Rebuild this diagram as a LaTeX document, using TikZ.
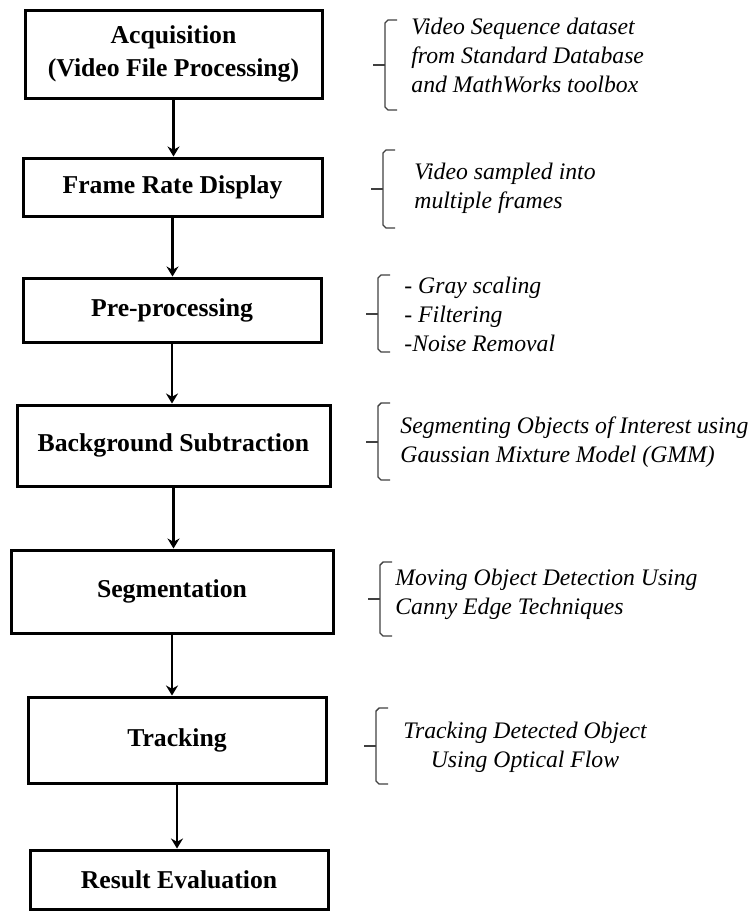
\documentclass[tikz,border=0pt]{standalone}
\usepackage{fontspec}
\setmainfont{Liberation Serif}
\usetikzlibrary{arrows.meta}
\newcommand{\notebrace}[3]{%
	\draw[brc] (#1+12,#2) -- (#1+3,#2) -- (#1,#2+3) -- (#1,#3-3) -- (#1+3,#3) -- (#1+12,#3);
	\draw[brc,line width=1pt] (#1,{(#2+#3)/2}) -- (#1-12,{(#2+#3)/2});}
\begin{document}
\begin{tikzpicture}[x=0.5pt,y=-0.5pt,>={Stealth[length=5pt,width=6pt]},
	stage/.style={draw,line width=1.5pt,align=center,inner sep=0pt,font=\fontsize{12.85}{16.5}\selectfont\bfseries},
	note/.style={align=left,inner sep=0pt,anchor=west,font=\fontsize{11.85}{14.5}\selectfont\itshape},
	brc/.style={draw=black!75,line width=0.7pt,line join=round}]
		\useasboundingbox (0,0) rectangle (749,911);
		% stages
		\node[stage,minimum width=148.5pt,minimum height=44pt] (acq) at (173.5,54) {Acquisition\\(Video File Processing)};
		\node[stage,minimum width=149.5pt,minimum height=29pt] (frm) at (172.5,187) {Frame Rate Display};
		\node[stage,minimum width=149pt,minimum height=32pt] (pre) at (172,310) {Pre-processing};
		\node[stage,minimum width=156.5pt,minimum height=40.5pt] (bgs) at (173.5,445.5) {Background Subtraction};
		\node[stage,minimum width=161pt,minimum height=41.5pt] (seg) at (172,591.5) {Segmentation};
		\node[stage,minimum width=149pt,minimum height=43pt] (trk) at (177,740) {Tracking};
		\node[stage,minimum width=149pt,minimum height=29.5pt] (res) at (179,879.5) {Result Evaluation};
		% arrows
		\draw[->,line width=1.2pt] (acq.south)--(acq.south |- frm.north);
		\draw[->,line width=1.2pt] (frm.south)--(frm.south |- pre.north);
		\draw[->,line width=1.2pt] (pre.south)--(pre.south |- bgs.north);
		\draw[->,line width=1.2pt] (bgs.south)--(bgs.south |- seg.north);
		\draw[->,line width=1.2pt] (seg.south)--(seg.south |- trk.north);
		\draw[->,line width=1.2pt] (trk.south)--(trk.south |- res.north);
		% braces and notes
		\notebrace{385}{20}{110}
		\node[note] (nacq) at (411,55) {Video Sequence dataset\\from Standard Database\\and MathWorks toolbox};
		\notebrace{383}{150}{228}
		\node[note] (nfrm) at (414,188) {Video sampled into\\multiple frames};
		\notebrace{378}{275}{352}
		\node[note] (npre) at (404,314) {- Gray scaling\\- Filtering\\-Noise Removal};
		\notebrace{378}{403}{480}
		\node[note] (nbgs) at (400,442) {Segmenting Objects of Interest using\\Gaussian Mixture Model (GMM)};
		\notebrace{380}{562}{636}
		\node[note] (nseg) at (395,594) {Moving Object Detection Using\\Canny Edge Techniques};
		\notebrace{376}{708}{784}
		\node[note,align=center,anchor=center] (ntrk) at (525,747.5) {Tracking Detected Object\\Using Optical Flow};
	\end{tikzpicture}
\end{document}
